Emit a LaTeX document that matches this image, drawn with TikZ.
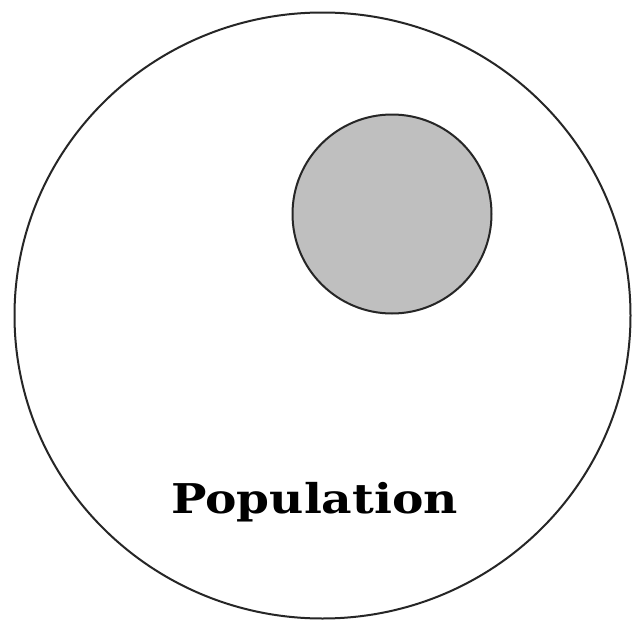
\documentclass[tikz,border=0pt]{standalone}
\usepackage{fontspec}
\newfontfamily\labelfont{DejaVu Serif}
\begin{document}
\begin{tikzpicture}[x=1pt,y=-1pt,
  ring/.style={draw=black!85,line width=2pt},
  lbl/.style={font=\labelfont\bfseries\fontsize{41}{41}\selectfont,anchor=base,inner sep=0pt,xscale=1.15}]
\useasboundingbox[fill=white] (0,0) rectangle (635,621);
\draw[ring] (322.5,315.5) ellipse[x radius=308,y radius=303];
\node[ring,fill=black!25,circle,minimum size=199pt,inner sep=0pt] (sample) at (392,214) {};
\node[lbl] (pop) at (314.5,513) {Population};
\end{tikzpicture}
\end{document}
